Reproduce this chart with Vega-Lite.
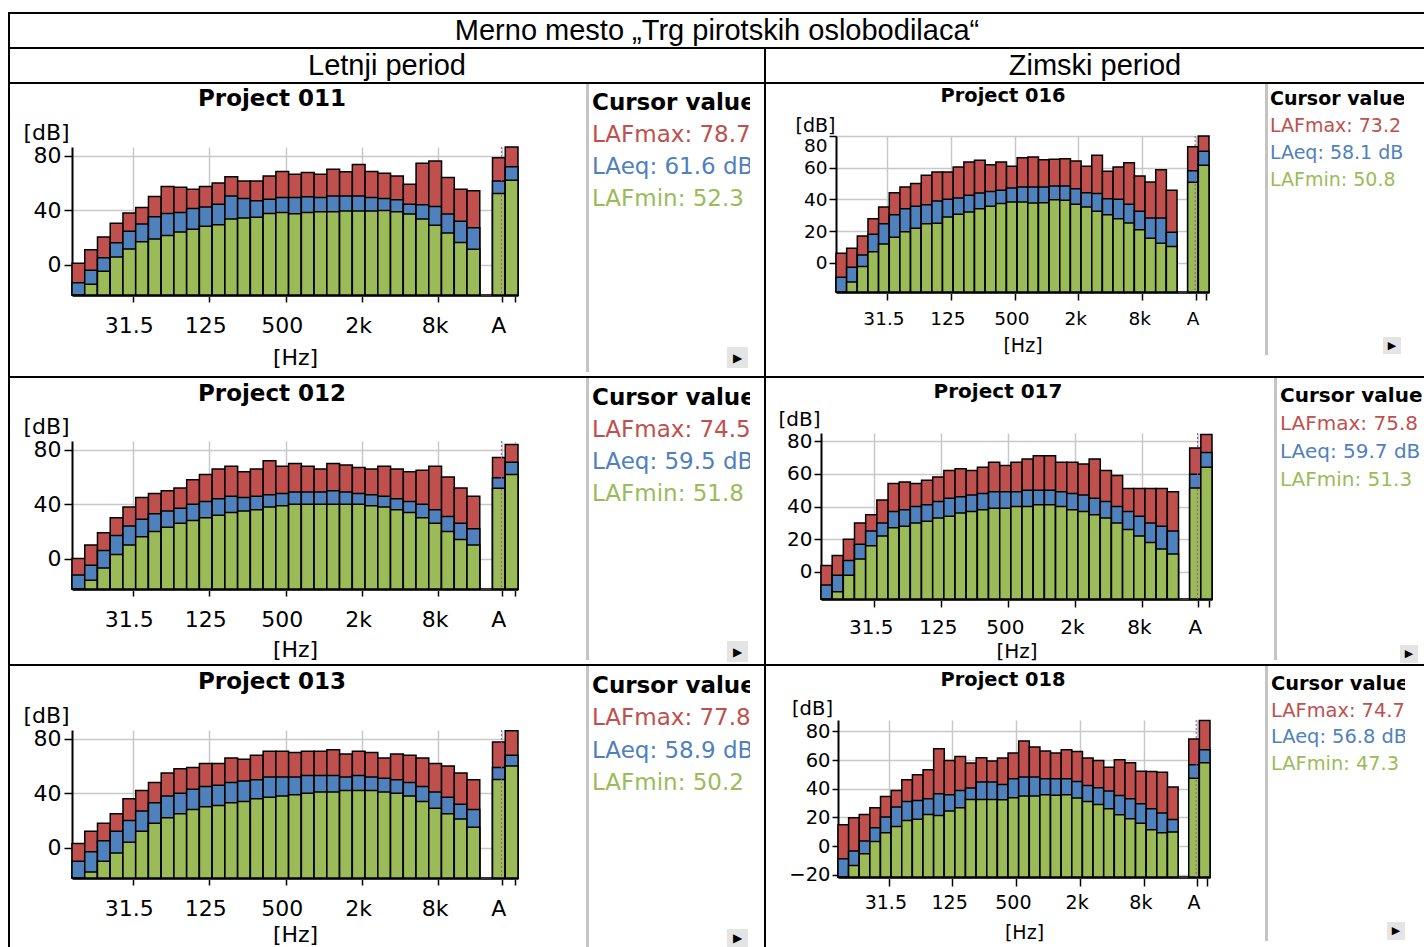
{
"$schema": "https://vega.github.io/schema/vega-lite/v6.json",
"padding": {"left": 8, "top": 12, "right": 0, "bottom": 0},
"background": "white",
"config": {
  "view": {"stroke": null},
  "font": "DejaVu Sans",
  "axis": {"labelColor": "#000", "titleColor": "#000", "labelFont": "DejaVu Sans", "titleFont": "DejaVu Sans"},
  "text": {"font": "DejaVu Sans", "color": "#000"}
},
"datasets": {
  "labels": [
    {"k": "title", "t": "Merno mesto „Trg pirotskih oslobodilaca“"},
    {"k": "L", "t": "Letnji period"},
    {"k": "Z", "t": "Zimski period"},
    {"k": "p011", "t": "Project 011"},
    {"k": "p012", "t": "Project 012"},
    {"k": "p013", "t": "Project 013"},
    {"k": "p016", "t": "Project 016"},
    {"k": "p017", "t": "Project 017"},
    {"k": "p018", "t": "Project 018"},
    {"k": "btn", "t": "▶"}
  ],
  "cursor": [
    {"p": "011", "i": 0, "t": "Cursor value", "k": "h"},
    {"p": "011", "i": 1, "t": "LAFmax: 78.7", "k": "mx"},
    {"p": "011", "i": 2, "t": "LAeq: 61.6 dB", "k": "eq"},
    {"p": "011", "i": 3, "t": "LAFmin: 52.3", "k": "mn"},
    {"p": "012", "i": 0, "t": "Cursor value", "k": "h"},
    {"p": "012", "i": 1, "t": "LAFmax: 74.5", "k": "mx"},
    {"p": "012", "i": 2, "t": "LAeq: 59.5 dB", "k": "eq"},
    {"p": "012", "i": 3, "t": "LAFmin: 51.8", "k": "mn"},
    {"p": "013", "i": 0, "t": "Cursor value", "k": "h"},
    {"p": "013", "i": 1, "t": "LAFmax: 77.8", "k": "mx"},
    {"p": "013", "i": 2, "t": "LAeq: 58.9 dB", "k": "eq"},
    {"p": "013", "i": 3, "t": "LAFmin: 50.2", "k": "mn"},
    {"p": "016", "i": 0, "t": "Cursor value", "k": "h"},
    {"p": "016", "i": 1, "t": "LAFmax: 73.2", "k": "mx"},
    {"p": "016", "i": 2, "t": "LAeq: 58.1 dB", "k": "eq"},
    {"p": "016", "i": 3, "t": "LAFmin: 50.8", "k": "mn"},
    {"p": "017", "i": 0, "t": "Cursor value", "k": "h"},
    {"p": "017", "i": 1, "t": "LAFmax: 75.8", "k": "mx"},
    {"p": "017", "i": 2, "t": "LAeq: 59.7 dB", "k": "eq"},
    {"p": "017", "i": 3, "t": "LAFmin: 51.3", "k": "mn"},
    {"p": "018", "i": 0, "t": "Cursor value", "k": "h"},
    {"p": "018", "i": 1, "t": "LAFmax: 74.7", "k": "mx"},
    {"p": "018", "i": 2, "t": "LAeq: 56.8 dB", "k": "eq"},
    {"p": "018", "i": 3, "t": "LAFmin: 47.3", "k": "mn"}
  ],
  "bars": [
    {"p":"011","f":"12.5","mx":1.0,"eq":-13.4,"mn":-22.4},
    {"p":"011","f":"16","mx":11,"eq":-4.2,"mn":-14.4},
    {"p":"011","f":"20","mx":20.3,"eq":5.1,"mn":-4.9},
    {"p":"011","f":"25","mx":30.5,"eq":16.1,"mn":5.6},
    {"p":"011","f":"31.5","mx":38,"eq":24.6,"mn":11.5},
    {"p":"011","f":"40","mx":42.1,"eq":29.8,"mn":16.8},
    {"p":"011","f":"50","mx":50.1,"eq":35.2,"mn":18.8},
    {"p":"011","f":"63","mx":57.5,"eq":37.7,"mn":21.5},
    {"p":"011","f":"80","mx":57,"eq":38.4,"mn":24},
    {"p":"011","f":"100","mx":55.5,"eq":41.3,"mn":26},
    {"p":"011","f":"125","mx":57.5,"eq":42.5,"mn":28.2},
    {"p":"011","f":"160","mx":60,"eq":44.5,"mn":29.4},
    {"p":"011","f":"200","mx":64.6,"eq":50.6,"mn":33.5},
    {"p":"011","f":"250","mx":61.6,"eq":48.6,"mn":34.3},
    {"p":"011","f":"315","mx":61.6,"eq":47,"mn":34.8},
    {"p":"011","f":"400","mx":65.3,"eq":48.2,"mn":37.7},
    {"p":"011","f":"500","mx":68.5,"eq":49.4,"mn":38.4},
    {"p":"011","f":"630","mx":66.6,"eq":49.4,"mn":37.5},
    {"p":"011","f":"800","mx":67.8,"eq":49.9,"mn":38.4},
    {"p":"011","f":"1k","mx":66.6,"eq":49.4,"mn":38.9},
    {"p":"011","f":"1.25k","mx":70.3,"eq":50.6,"mn":38.9},
    {"p":"011","f":"1.6k","mx":68.3,"eq":50.6,"mn":39.4},
    {"p":"011","f":"2k","mx":73.8,"eq":50.6,"mn":39.4},
    {"p":"011","f":"2.5k","mx":68.5,"eq":49.4,"mn":39.4},
    {"p":"011","f":"3.15k","mx":67.3,"eq":48.6,"mn":39.9},
    {"p":"011","f":"4k","mx":65.3,"eq":47.7,"mn":38.9},
    {"p":"011","f":"5k","mx":59.2,"eq":44.5,"mn":37.2},
    {"p":"011","f":"6.3k","mx":74.6,"eq":44,"mn":33.5},
    {"p":"011","f":"8k","mx":76.3,"eq":42.8,"mn":29},
    {"p":"011","f":"10k","mx":64.1,"eq":37.2,"mn":23.3},
    {"p":"011","f":"12.5k","mx":55.5,"eq":32,"mn":16.3},
    {"p":"011","f":"16k","mx":54.3,"eq":27.2,"mn":11.3},
    {"p":"011","f":"A","mx":78.7,"eq":61.6,"mn":52.3},
    {"p":"011","f":"C","mx":86.6,"eq":72.1,"mn":62.1},

    {"p":"012","f":"12.5","mx":0,"eq":-12,"mn":-22.4},
    {"p":"012","f":"16","mx":10,"eq":-5,"mn":-16},
    {"p":"012","f":"20","mx":19,"eq":6,"mn":-7},
    {"p":"012","f":"25","mx":30,"eq":17,"mn":3},
    {"p":"012","f":"31.5","mx":38,"eq":24,"mn":10},
    {"p":"012","f":"40","mx":45,"eq":29,"mn":16},
    {"p":"012","f":"50","mx":48,"eq":33,"mn":20},
    {"p":"012","f":"63","mx":50,"eq":35,"mn":23},
    {"p":"012","f":"80","mx":52,"eq":37,"mn":26},
    {"p":"012","f":"100","mx":58,"eq":40,"mn":28},
    {"p":"012","f":"125","mx":62,"eq":42,"mn":30},
    {"p":"012","f":"160","mx":66,"eq":44,"mn":32},
    {"p":"012","f":"200","mx":68,"eq":46,"mn":34},
    {"p":"012","f":"250","mx":64,"eq":45,"mn":35},
    {"p":"012","f":"315","mx":66,"eq":46,"mn":36},
    {"p":"012","f":"400","mx":72,"eq":47,"mn":38},
    {"p":"012","f":"500","mx":68,"eq":48,"mn":39},
    {"p":"012","f":"630","mx":70,"eq":49,"mn":40},
    {"p":"012","f":"800","mx":68,"eq":49,"mn":40},
    {"p":"012","f":"1k","mx":66,"eq":49,"mn":40},
    {"p":"012","f":"1.25k","mx":70,"eq":50,"mn":40},
    {"p":"012","f":"1.6k","mx":69,"eq":49,"mn":40},
    {"p":"012","f":"2k","mx":67,"eq":48,"mn":40},
    {"p":"012","f":"2.5k","mx":66,"eq":47,"mn":39},
    {"p":"012","f":"3.15k","mx":68,"eq":46,"mn":38},
    {"p":"012","f":"4k","mx":66,"eq":44,"mn":36},
    {"p":"012","f":"5k","mx":64,"eq":42,"mn":34},
    {"p":"012","f":"6.3k","mx":65,"eq":40,"mn":30},
    {"p":"012","f":"8k","mx":68,"eq":36,"mn":26},
    {"p":"012","f":"10k","mx":60,"eq":31,"mn":20},
    {"p":"012","f":"12.5k","mx":52,"eq":26,"mn":14},
    {"p":"012","f":"16k","mx":46,"eq":22,"mn":10},
    {"p":"012","f":"A","mx":74.5,"eq":59.5,"mn":51.8},
    {"p":"012","f":"C","mx":84,"eq":71,"mn":62},

    {"p":"013","f":"12.5","mx":3,"eq":-10,"mn":-22.4},
    {"p":"013","f":"16","mx":12,"eq":-3,"mn":-18},
    {"p":"013","f":"20","mx":18,"eq":5,"mn":-10},
    {"p":"013","f":"25","mx":25,"eq":12,"mn":-4},
    {"p":"013","f":"31.5","mx":36,"eq":20,"mn":4},
    {"p":"013","f":"40","mx":42,"eq":27,"mn":12},
    {"p":"013","f":"50","mx":48,"eq":33,"mn":18},
    {"p":"013","f":"63","mx":55,"eq":38,"mn":22},
    {"p":"013","f":"80","mx":58,"eq":40,"mn":25},
    {"p":"013","f":"100","mx":59,"eq":43,"mn":28},
    {"p":"013","f":"125","mx":62,"eq":45,"mn":30},
    {"p":"013","f":"160","mx":62,"eq":46,"mn":31},
    {"p":"013","f":"200","mx":66,"eq":48,"mn":33},
    {"p":"013","f":"250","mx":65,"eq":49,"mn":34},
    {"p":"013","f":"315","mx":68,"eq":50,"mn":36},
    {"p":"013","f":"400","mx":71,"eq":52,"mn":37},
    {"p":"013","f":"500","mx":71,"eq":52,"mn":38},
    {"p":"013","f":"630","mx":70,"eq":52,"mn":39},
    {"p":"013","f":"800","mx":71,"eq":53,"mn":40},
    {"p":"013","f":"1k","mx":71,"eq":53,"mn":41},
    {"p":"013","f":"1.25k","mx":72,"eq":53,"mn":41},
    {"p":"013","f":"1.6k","mx":69,"eq":52,"mn":42},
    {"p":"013","f":"2k","mx":71,"eq":53,"mn":42},
    {"p":"013","f":"2.5k","mx":70,"eq":52,"mn":42},
    {"p":"013","f":"3.15k","mx":66,"eq":51,"mn":41},
    {"p":"013","f":"4k","mx":69,"eq":50,"mn":40},
    {"p":"013","f":"5k","mx":68,"eq":48,"mn":38},
    {"p":"013","f":"6.3k","mx":66,"eq":45,"mn":34},
    {"p":"013","f":"8k","mx":62,"eq":41,"mn":29},
    {"p":"013","f":"10k","mx":60,"eq":37,"mn":25},
    {"p":"013","f":"12.5k","mx":55,"eq":32,"mn":21},
    {"p":"013","f":"16k","mx":50,"eq":28,"mn":15},
    {"p":"013","f":"A","mx":77.8,"eq":58.9,"mn":50.2},
    {"p":"013","f":"C","mx":86,"eq":68,"mn":60},

    {"p":"016","f":"12.5","mx":6.1,"eq":-9,"mn":-18.3},
    {"p":"016","f":"16","mx":9.2,"eq":-2.7,"mn":-12},
    {"p":"016","f":"20","mx":17,"eq":5,"mn":-2.3},
    {"p":"016","f":"25","mx":27.9,"eq":18.1,"mn":7.1},
    {"p":"016","f":"31.5","mx":35.3,"eq":24.7,"mn":12},
    {"p":"016","f":"40","mx":44.3,"eq":30.4,"mn":16.2},
    {"p":"016","f":"50","mx":47.9,"eq":34.2,"mn":19.6},
    {"p":"016","f":"63","mx":50,"eq":35.7,"mn":21.9},
    {"p":"016","f":"80","mx":55.2,"eq":36.7,"mn":24.7},
    {"p":"016","f":"100","mx":57.3,"eq":39,"mn":25.1},
    {"p":"016","f":"125","mx":57.3,"eq":40.1,"mn":29},
    {"p":"016","f":"160","mx":60.5,"eq":40.9,"mn":30.7},
    {"p":"016","f":"200","mx":63.6,"eq":42.6,"mn":32.1},
    {"p":"016","f":"250","mx":64.7,"eq":44.1,"mn":34.2},
    {"p":"016","f":"315","mx":61.9,"eq":45,"mn":35.8},
    {"p":"016","f":"400","mx":63.6,"eq":45.8,"mn":37.4},
    {"p":"016","f":"500","mx":60.9,"eq":47.2,"mn":38.4},
    {"p":"016","f":"630","mx":66.3,"eq":47.9,"mn":38.4},
    {"p":"016","f":"800","mx":66.8,"eq":47.9,"mn":37.8},
    {"p":"016","f":"1k","mx":65.1,"eq":47.9,"mn":38},
    {"p":"016","f":"1.25k","mx":65.3,"eq":48.5,"mn":39.9},
    {"p":"016","f":"1.6k","mx":65.7,"eq":48.5,"mn":39.5},
    {"p":"016","f":"2k","mx":64.3,"eq":46.8,"mn":37},
    {"p":"016","f":"2.5k","mx":60.9,"eq":44.3,"mn":35.3},
    {"p":"016","f":"3.15k","mx":67.8,"eq":43.7,"mn":32.6},
    {"p":"016","f":"4k","mx":57.8,"eq":40.5,"mn":30.4},
    {"p":"016","f":"5k","mx":60.5,"eq":40.1,"mn":27.9},
    {"p":"016","f":"6.3k","mx":63.2,"eq":37,"mn":25.2},
    {"p":"016","f":"8k","mx":54.8,"eq":32.6,"mn":20.9},
    {"p":"016","f":"10k","mx":51,"eq":28.3,"mn":15.5},
    {"p":"016","f":"12.5k","mx":58.8,"eq":28.3,"mn":12.4},
    {"p":"016","f":"16k","mx":45.8,"eq":19.3,"mn":10.3},
    {"p":"016","f":"A","mx":73.2,"eq":58.1,"mn":50.8},
    {"p":"016","f":"C","mx":80,"eq":70.4,"mn":61.5},

    {"p":"017","f":"12.5","mx":4,"eq":-8,"mn":-16.5},
    {"p":"017","f":"16","mx":10,"eq":-2,"mn":-12},
    {"p":"017","f":"20","mx":20,"eq":7,"mn":-2},
    {"p":"017","f":"25","mx":30,"eq":17,"mn":8},
    {"p":"017","f":"31.5","mx":35,"eq":25,"mn":16},
    {"p":"017","f":"40","mx":44,"eq":30,"mn":22},
    {"p":"017","f":"50","mx":54,"eq":37,"mn":27},
    {"p":"017","f":"63","mx":55,"eq":38,"mn":28},
    {"p":"017","f":"80","mx":54,"eq":40,"mn":30},
    {"p":"017","f":"100","mx":56,"eq":41,"mn":31},
    {"p":"017","f":"125","mx":58,"eq":43,"mn":33},
    {"p":"017","f":"160","mx":62,"eq":45,"mn":34},
    {"p":"017","f":"200","mx":63,"eq":46,"mn":36},
    {"p":"017","f":"250","mx":62,"eq":47,"mn":37},
    {"p":"017","f":"315","mx":64,"eq":48,"mn":38},
    {"p":"017","f":"400","mx":67,"eq":49,"mn":39},
    {"p":"017","f":"500","mx":65,"eq":49,"mn":39},
    {"p":"017","f":"630","mx":67,"eq":49,"mn":40},
    {"p":"017","f":"800","mx":69,"eq":50,"mn":40},
    {"p":"017","f":"1k","mx":71,"eq":50,"mn":41},
    {"p":"017","f":"1.25k","mx":71,"eq":50,"mn":41},
    {"p":"017","f":"1.6k","mx":67,"eq":49,"mn":40},
    {"p":"017","f":"2k","mx":67,"eq":48,"mn":38},
    {"p":"017","f":"2.5k","mx":66,"eq":47,"mn":37},
    {"p":"017","f":"3.15k","mx":69,"eq":45,"mn":35},
    {"p":"017","f":"4k","mx":62,"eq":43,"mn":33},
    {"p":"017","f":"5k","mx":59,"eq":40,"mn":30},
    {"p":"017","f":"6.3k","mx":51,"eq":37,"mn":26},
    {"p":"017","f":"8k","mx":51,"eq":34,"mn":22},
    {"p":"017","f":"10k","mx":51,"eq":30,"mn":18},
    {"p":"017","f":"12.5k","mx":51,"eq":28,"mn":14},
    {"p":"017","f":"16k","mx":49,"eq":25,"mn":11},
    {"p":"017","f":"A","mx":75.8,"eq":59.7,"mn":51.3},
    {"p":"017","f":"C","mx":84,"eq":73,"mn":64},

    {"p":"018","f":"12.5","mx":14.9,"eq":-8.9,"mn":-21.6},
    {"p":"018","f":"16","mx":19.7,"eq":-3.5,"mn":-13.5},
    {"p":"018","f":"20","mx":22,"eq":3.5,"mn":-5.4},
    {"p":"018","f":"25","mx":26.7,"eq":12.8,"mn":3.2},
    {"p":"018","f":"31.5","mx":34.6,"eq":20.2,"mn":9.3},
    {"p":"018","f":"40","mx":38.8,"eq":27.2,"mn":13.7},
    {"p":"018","f":"50","mx":46.3,"eq":31.1,"mn":17.9},
    {"p":"018","f":"63","mx":49.8,"eq":31.8,"mn":18.8},
    {"p":"018","f":"80","mx":53.2,"eq":33,"mn":22},
    {"p":"018","f":"100","mx":67.9,"eq":36.5,"mn":21.4},
    {"p":"018","f":"125","mx":59.7,"eq":35.8,"mn":24.4},
    {"p":"018","f":"160","mx":62.5,"eq":38.8,"mn":26.7},
    {"p":"018","f":"200","mx":57.9,"eq":40.5,"mn":32.5},
    {"p":"018","f":"250","mx":61.6,"eq":44.7,"mn":32.5},
    {"p":"018","f":"315","mx":59.3,"eq":44.7,"mn":32.5},
    {"p":"018","f":"400","mx":61.4,"eq":43,"mn":32.3},
    {"p":"018","f":"500","mx":64.9,"eq":47,"mn":33.7},
    {"p":"018","f":"630","mx":73.3,"eq":48.2,"mn":34.9},
    {"p":"018","f":"800","mx":69.1,"eq":48.2,"mn":34.9},
    {"p":"018","f":"1k","mx":66.3,"eq":47,"mn":35.8},
    {"p":"018","f":"1.25k","mx":64.9,"eq":47,"mn":35.4},
    {"p":"018","f":"1.6k","mx":67.2,"eq":47,"mn":35.8},
    {"p":"018","f":"2k","mx":66,"eq":45.1,"mn":33.5},
    {"p":"018","f":"2.5k","mx":61.4,"eq":42.3,"mn":31.1},
    {"p":"018","f":"3.15k","mx":59.7,"eq":40.7,"mn":29},
    {"p":"018","f":"4k","mx":55.1,"eq":38.4,"mn":26},
    {"p":"018","f":"5k","mx":60.2,"eq":35.3,"mn":21.8},
    {"p":"018","f":"6.3k","mx":58.1,"eq":33,"mn":19},
    {"p":"018","f":"8k","mx":52.3,"eq":29.5,"mn":16},
    {"p":"018","f":"10k","mx":52,"eq":26,"mn":11.4},
    {"p":"018","f":"12.5k","mx":51.6,"eq":23,"mn":9.3},
    {"p":"018","f":"16k","mx":41.2,"eq":18.6,"mn":9.8},
    {"p":"018","f":"A","mx":74.7,"eq":56.8,"mn":47.3},
    {"p":"018","f":"C","mx":87.7,"eq":67.2,"mn":58.1}
  ]
},
"spacing": 0,
"vconcat": [
  {"data": {"values": []}, "mark": "point", "width": 1416, "height": 2, "view": {"fill": "#000", "stroke": null}},
  {"hconcat": [
    {"data": {"values": []}, "mark": "point", "width": 2, "height": 33, "view": {"fill": "#000", "stroke": null}},
    {"width": 1414, "height": 33, "data": {"name": "labels"}, "transform": [{"filter": "datum.k == 'title'"}], "mark": {"type": "text", "font": "Liberation Sans", "fontSize": 29, "baseline": "middle"}, "encoding": {"text": {"field": "t"}}}
  ], "spacing": 0},
  {"data": {"values": []}, "mark": "point", "width": 1416, "height": 2, "view": {"fill": "#000", "stroke": null}},
  {"hconcat": [
    {"data": {"values": []}, "mark": "point", "width": 2, "height": 33, "view": {"fill": "#000", "stroke": null}},
    {"width": 754, "height": 33, "data": {"name": "labels"}, "transform": [{"filter": "datum.k == 'L'"}], "mark": {"type": "text", "font": "Liberation Sans", "fontSize": 29, "baseline": "middle"}, "encoding": {"text": {"field": "t"}}},
    {"data": {"values": []}, "mark": "point", "width": 2, "height": 33, "view": {"fill": "#000", "stroke": null}},
    {"width": 658, "height": 33, "data": {"name": "labels"}, "transform": [{"filter": "datum.k == 'Z'"}], "mark": {"type": "text", "font": "Liberation Sans", "fontSize": 29, "baseline": "middle"}, "encoding": {"text": {"field": "t"}}}
  ], "spacing": 0},
  {"data": {"values": []}, "mark": "point", "width": 1416, "height": 2, "view": {"fill": "#000", "stroke": null}},

  {"hconcat": [
    {"data": {"values": []}, "mark": "point", "width": 2, "height": 292, "view": {"fill": "#000", "stroke": null}},
    {"hconcat": [
      {"vconcat": [
        {"width": 524, "height": 30, "data": {"name": "labels"}, "transform": [{"filter": "datum.k == 'p011'"}], "mark": {"type": "text", "fontWeight": "bold", "fontSize": 23, "baseline": "middle"}, "encoding": {"text": {"field": "t"}}},
        {"concat": [
          {"data": {"values": []}, "mark": "point", "width": 62, "height": 33},
          {"data": {"values": []}, "mark": "point", "width": 446, "height": 33},
          {"data": {"values": []}, "mark": "point", "width": 68, "height": 33},
          {"data": {"values": []}, "mark": "point", "width": 62, "height": 148},
          {"width": 446, "height": 148, "data": {"name": "bars"}, "transform": [{"filter": "datum.p == '011'"}],
           "layer": [
             {"transform": [{"fold": ["mx", "eq", "mn"], "as": ["s", "v"]}],
              "mark": {"type": "bar", "stroke": "#000", "strokeWidth": 1.5},
              "encoding": {
                "x": {"field": "f", "type": "ordinal", "scale": {"domain": ["12.5","16","20","25","31.5","40","50","63","80","100","125","160","200","250","315","400","500","630","800","1k","1.25k","1.6k","2k","2.5k","3.15k","4k","5k","6.3k","8k","10k","12.5k","16k"," ","A","C"], "paddingInner": 0, "paddingOuter": 0},
                      "axis": {"values": ["31.5","125","500","2k","8k","A","C"], "labelExpr": "datum.label == 'C' ? '' : datum.label", "bandPosition": 0.8, "labelAngle": 0, "labelOverlap": false, "grid": true, "gridColor": "#c8c8c8", "gridWidth": 1.5, "domainColor": "#333", "domainWidth": 3, "tickColor": "#000", "tickWidth": 1.5, "tickSize": 7, "labelFontSize": 22, "labelPadding": 13, "title": "[Hz]", "titleFontSize": 22, "titleFontWeight": "normal", "titleBaseline": "alphabetic", "titleY": 69}},
                "y": {"field": "v", "type": "quantitative", "stack": null, "scale": {"domain": [-22.4, 86.6], "nice": false, "zero": false},
                      "axis": {"values": [0, 40, 80], "grid": true, "gridColor": "#c8c8c8", "gridWidth": 1.5, "domainColor": "#000", "domainWidth": 2, "tickColor": "#000", "tickWidth": 1.5, "tickSize": 8, "labelPadding": 3, "labelFontSize": 22, "title": "[dB]", "titleAngle": 0, "titleAlign": "center", "titleBaseline": "alphabetic", "titleX": -26, "titleY": -8, "titleFontSize": 22, "titleFontWeight": "normal"}},
                "y2": {"datum": -22.4},
                "color": {"field": "s", "type": "nominal", "scale": {"domain": ["mx", "eq", "mn"], "range": ["#c0504d", "#4f81bd", "#9bbb59"]}, "legend": null}
              }},
             {"transform": [{"filter": "datum.f == 'A'"}], "mark": {"type": "rule", "color": "#a64ca6", "strokeDash": [2, 2], "strokeWidth": 1}, "encoding": {"x": {"field": "f", "type": "ordinal", "bandPosition": 0.7}}}
           ]},
          {"data": {"values": []}, "mark": "point", "width": 68, "height": 148},
          {"data": {"values": []}, "mark": "point", "width": 62, "height": 81},
          {"data": {"values": []}, "mark": "point", "width": 446, "height": 81},
          {"data": {"values": []}, "mark": "point", "width": 68, "height": 81}
        ], "columns": 3, "spacing": 0, "bounds": "flush", "align": "each"}
      ], "spacing": 0},
      {"data": {"values": []}, "mark": "point", "width": 3, "height": 288, "view": {"fill": "#c4c4c4", "stroke": null}},
      {"data": {"values": []}, "mark": "point", "width": 3, "height": 10},
      {"vconcat": [
        {"width": 158, "height": 134, "data": {"name": "cursor"}, "transform": [{"filter": "datum.p == '011'"}],
         "encoding": {"y": {"field": "i", "type": "ordinal", "scale": {"type": "point", "padding": 0.594}, "axis": null},
                      "x": {"datum": 0, "type": "quantitative", "scale": {"domain": [0, 1]}, "axis": null},
                      "text": {"field": "t"}},
         "layer": [
           {"transform": [{"filter": "datum.k == 'h'"}], "mark": {"type": "text", "align": "left", "baseline": "middle", "fontSize": 23, "fontWeight": "bold", "color": "#000", "clip": true}},
           {"transform": [{"filter": "datum.k != 'h'"}], "mark": {"type": "text", "align": "left", "baseline": "middle", "fontSize": 23, "clip": true},
            "encoding": {"color": {"field": "k", "type": "nominal", "scale": {"domain": ["mx", "eq", "mn"], "range": ["#c0504d", "#4f81bd", "#9bbb59"]}, "legend": null}}}
         ]},
        {"data": {"values": []}, "mark": "point", "width": 158, "height": 129},
        {"hconcat": [
          {"data": {"values": []}, "mark": "point", "width": 135, "height": 21},
          {"width": 21, "height": 21, "data": {"name": "labels"}, "transform": [{"filter": "datum.k == 'btn'"}], "mark": {"type": "text", "fontSize": 12, "baseline": "middle", "color": "#000"}, "encoding": {"text": {"field": "t"}}, "view": {"fill": "#e4e4e4", "stroke": null}},
          {"data": {"values": []}, "mark": "point", "width": 2, "height": 21}
        ], "spacing": 0},
        {"data": {"values": []}, "mark": "point", "width": 158, "height": 8}
      ], "spacing": 0},
      {"data": {"values": []}, "mark": "point", "width": 14, "height": 10}
    ], "spacing": 0},
    {"data": {"values": []}, "mark": "point", "width": 2, "height": 292, "view": {"fill": "#000", "stroke": null}},
    {"hconcat": [
      {"vconcat": [
        {"width": 474, "height": 24, "data": {"name": "labels"}, "transform": [{"filter": "datum.k == 'p016'"}], "mark": {"type": "text", "fontWeight": "bold", "fontSize": 19.4, "baseline": "middle"}, "encoding": {"text": {"field": "t"}}},
        {"concat": [
          {"data": {"values": []}, "mark": "point", "width": 70, "height": 28},
          {"data": {"values": []}, "mark": "point", "width": 373, "height": 28},
          {"data": {"values": []}, "mark": "point", "width": 56, "height": 28},
          {"data": {"values": []}, "mark": "point", "width": 70, "height": 156},
          {"width": 373, "height": 156, "data": {"name": "bars"}, "transform": [{"filter": "datum.p == '016'"}],
           "layer": [
             {"transform": [{"fold": ["mx", "eq", "mn"], "as": ["s", "v"]}],
              "mark": {"type": "bar", "stroke": "#000", "strokeWidth": 1.5},
              "encoding": {
                "x": {"field": "f", "type": "ordinal", "scale": {"domain": ["12.5","16","20","25","31.5","40","50","63","80","100","125","160","200","250","315","400","500","630","800","1k","1.25k","1.6k","2k","2.5k","3.15k","4k","5k","6.3k","8k","10k","12.5k","16k"," ","A","C"], "paddingInner": 0, "paddingOuter": 0},
                      "axis": {"values": ["31.5","125","500","2k","8k","A","C"], "labelExpr": "datum.label == 'C' ? '' : datum.label", "bandPosition": 0.8, "labelAngle": 0, "labelOverlap": false, "grid": true, "gridColor": "#c8c8c8", "gridWidth": 1.5, "domainColor": "#333", "domainWidth": 3, "tickColor": "#000", "tickWidth": 1.5, "tickSize": 8, "labelFontSize": 18.5, "labelPadding": 9, "title": "[Hz]", "titleFontSize": 19, "titleFontWeight": "normal", "titleBaseline": "alphabetic", "titleY": 59.5}},
                "y": {"field": "v", "type": "quantitative", "stack": null, "scale": {"domain": [-18.3, 80], "nice": false, "zero": false},
                      "axis": {"values": [0, 20, 40, 60, 80], "labelFlush": true, "grid": true, "gridColor": "#c8c8c8", "gridWidth": 1.5, "domainColor": "#000", "domainWidth": 2, "tickColor": "#000", "tickWidth": 1.5, "tickSize": 7, "labelPadding": 2, "labelFontSize": 18.5, "title": "[dB]", "titleAngle": 0, "titleAlign": "center", "titleBaseline": "alphabetic", "titleX": -21, "titleY": -5, "titleFontSize": 19, "titleFontWeight": "normal"}},
                "y2": {"datum": -18.3},
                "color": {"field": "s", "type": "nominal", "scale": {"domain": ["mx", "eq", "mn"], "range": ["#c0504d", "#4f81bd", "#9bbb59"]}, "legend": null}
              }},
             {"transform": [{"filter": "datum.f == 'A'"}], "mark": {"type": "rule", "color": "#a64ca6", "strokeDash": [2, 2], "strokeWidth": 1}, "encoding": {"x": {"field": "f", "type": "ordinal", "bandPosition": 0.7}}}
           ]},
          {"data": {"values": []}, "mark": "point", "width": 56, "height": 156},
          {"data": {"values": []}, "mark": "point", "width": 70, "height": 84},
          {"data": {"values": []}, "mark": "point", "width": 373, "height": 84},
          {"data": {"values": []}, "mark": "point", "width": 56, "height": 84}
        ], "columns": 3, "spacing": 0, "bounds": "flush", "align": "each"}
      ], "spacing": 0},
      {"data": {"values": []}, "mark": "point", "width": 3, "height": 271, "view": {"fill": "#c4c4c4", "stroke": null}},
      {"data": {"values": []}, "mark": "point", "width": 2, "height": 10},
      {"vconcat": [
        {"width": 134, "height": 111, "data": {"name": "cursor"}, "transform": [{"filter": "datum.p == '016'"}],
         "encoding": {"y": {"field": "i", "type": "ordinal", "scale": {"type": "point", "padding": 0.556}, "axis": null},
                      "x": {"datum": 0, "type": "quantitative", "scale": {"domain": [0, 1]}, "axis": null},
                      "text": {"field": "t"}},
         "layer": [
           {"transform": [{"filter": "datum.k == 'h'"}], "mark": {"type": "text", "align": "left", "baseline": "middle", "fontSize": 19, "fontWeight": "bold", "color": "#000", "clip": true}},
           {"transform": [{"filter": "datum.k != 'h'"}], "mark": {"type": "text", "align": "left", "baseline": "middle", "fontSize": 19, "clip": true},
            "encoding": {"color": {"field": "k", "type": "nominal", "scale": {"domain": ["mx", "eq", "mn"], "range": ["#c0504d", "#4f81bd", "#9bbb59"]}, "legend": null}}}
         ]},
        {"data": {"values": []}, "mark": "point", "width": 134, "height": 142},
        {"hconcat": [
          {"data": {"values": []}, "mark": "point", "width": 113, "height": 17},
          {"width": 18, "height": 17, "data": {"name": "labels"}, "transform": [{"filter": "datum.k == 'btn'"}], "mark": {"type": "text", "fontSize": 11, "baseline": "middle", "color": "#000"}, "encoding": {"text": {"field": "t"}}, "view": {"fill": "#e4e4e4", "stroke": null}},
          {"data": {"values": []}, "mark": "point", "width": 3, "height": 17}
        ], "spacing": 0},
        {"data": {"values": []}, "mark": "point", "width": 134, "height": 22}
      ], "spacing": 0},
      {"data": {"values": []}, "mark": "point", "width": 20, "height": 10}
    ], "spacing": 0}
  ], "spacing": 0},

  {"data": {"values": []}, "mark": "point", "width": 1416, "height": 2, "view": {"fill": "#000", "stroke": null}},

  {"hconcat": [
    {"data": {"values": []}, "mark": "point", "width": 2, "height": 286, "view": {"fill": "#000", "stroke": null}},
    {"hconcat": [
      {"vconcat": [
        {"width": 524, "height": 32, "data": {"name": "labels"}, "transform": [{"filter": "datum.k == 'p012'"}], "mark": {"type": "text", "fontWeight": "bold", "fontSize": 23, "baseline": "middle"}, "encoding": {"text": {"field": "t"}}},
        {"concat": [
          {"data": {"values": []}, "mark": "point", "width": 62, "height": 31},
          {"data": {"values": []}, "mark": "point", "width": 446, "height": 31},
          {"data": {"values": []}, "mark": "point", "width": 68, "height": 31},
          {"data": {"values": []}, "mark": "point", "width": 62, "height": 148},
          {"width": 446, "height": 148, "data": {"name": "bars"}, "transform": [{"filter": "datum.p == '012'"}],
           "layer": [
             {"transform": [{"fold": ["mx", "eq", "mn"], "as": ["s", "v"]}],
              "mark": {"type": "bar", "stroke": "#000", "strokeWidth": 1.5},
              "encoding": {
                "x": {"field": "f", "type": "ordinal", "scale": {"domain": ["12.5","16","20","25","31.5","40","50","63","80","100","125","160","200","250","315","400","500","630","800","1k","1.25k","1.6k","2k","2.5k","3.15k","4k","5k","6.3k","8k","10k","12.5k","16k"," ","A","C"], "paddingInner": 0, "paddingOuter": 0},
                      "axis": {"values": ["31.5","125","500","2k","8k","A","C"], "labelExpr": "datum.label == 'C' ? '' : datum.label", "bandPosition": 0.8, "labelAngle": 0, "labelOverlap": false, "grid": true, "gridColor": "#c8c8c8", "gridWidth": 1.5, "domainColor": "#333", "domainWidth": 3, "tickColor": "#000", "tickWidth": 1.5, "tickSize": 7, "labelFontSize": 22, "labelPadding": 13, "title": "[Hz]", "titleFontSize": 22, "titleFontWeight": "normal", "titleBaseline": "alphabetic", "titleY": 67}},
                "y": {"field": "v", "type": "quantitative", "stack": null, "scale": {"domain": [-22.4, 86.6], "nice": false, "zero": false},
                      "axis": {"values": [0, 40, 80], "grid": true, "gridColor": "#c8c8c8", "gridWidth": 1.5, "domainColor": "#000", "domainWidth": 2, "tickColor": "#000", "tickWidth": 1.5, "tickSize": 8, "labelPadding": 3, "labelFontSize": 22, "title": "[dB]", "titleAngle": 0, "titleAlign": "center", "titleBaseline": "alphabetic", "titleX": -26, "titleY": -8, "titleFontSize": 22, "titleFontWeight": "normal"}},
                "y2": {"datum": -22.4},
                "color": {"field": "s", "type": "nominal", "scale": {"domain": ["mx", "eq", "mn"], "range": ["#c0504d", "#4f81bd", "#9bbb59"]}, "legend": null}
              }},
             {"transform": [{"filter": "datum.f == 'A'"}], "mark": {"type": "rule", "color": "#a64ca6", "strokeDash": [2, 2], "strokeWidth": 1}, "encoding": {"x": {"field": "f", "type": "ordinal", "bandPosition": 0.7}}}
           ]},
          {"data": {"values": []}, "mark": "point", "width": 68, "height": 148},
          {"data": {"values": []}, "mark": "point", "width": 62, "height": 75},
          {"data": {"values": []}, "mark": "point", "width": 446, "height": 75},
          {"data": {"values": []}, "mark": "point", "width": 68, "height": 75}
        ], "columns": 3, "spacing": 0, "bounds": "flush", "align": "each"}
      ], "spacing": 0},
      {"data": {"values": []}, "mark": "point", "width": 3, "height": 282, "view": {"fill": "#c4c4c4", "stroke": null}},
      {"data": {"values": []}, "mark": "point", "width": 3, "height": 10},
      {"vconcat": [
        {"width": 158, "height": 136, "data": {"name": "cursor"}, "transform": [{"filter": "datum.p == '012'"}],
         "encoding": {"y": {"field": "i", "type": "ordinal", "scale": {"type": "point", "padding": 0.625}, "axis": null},
                      "x": {"datum": 0, "type": "quantitative", "scale": {"domain": [0, 1]}, "axis": null},
                      "text": {"field": "t"}},
         "layer": [
           {"transform": [{"filter": "datum.k == 'h'"}], "mark": {"type": "text", "align": "left", "baseline": "middle", "fontSize": 23, "fontWeight": "bold", "color": "#000", "clip": true}},
           {"transform": [{"filter": "datum.k != 'h'"}], "mark": {"type": "text", "align": "left", "baseline": "middle", "fontSize": 23, "clip": true},
            "encoding": {"color": {"field": "k", "type": "nominal", "scale": {"domain": ["mx", "eq", "mn"], "range": ["#c0504d", "#4f81bd", "#9bbb59"]}, "legend": null}}}
         ]},
        {"data": {"values": []}, "mark": "point", "width": 158, "height": 127},
        {"hconcat": [
          {"data": {"values": []}, "mark": "point", "width": 135, "height": 21},
          {"width": 21, "height": 21, "data": {"name": "labels"}, "transform": [{"filter": "datum.k == 'btn'"}], "mark": {"type": "text", "fontSize": 12, "baseline": "middle", "color": "#000"}, "encoding": {"text": {"field": "t"}}, "view": {"fill": "#e4e4e4", "stroke": null}},
          {"data": {"values": []}, "mark": "point", "width": 2, "height": 21}
        ], "spacing": 0},
        {"data": {"values": []}, "mark": "point", "width": 158, "height": 2}
      ], "spacing": 0},
      {"data": {"values": []}, "mark": "point", "width": 14, "height": 10}
    ], "spacing": 0},
    {"data": {"values": []}, "mark": "point", "width": 2, "height": 286, "view": {"fill": "#000", "stroke": null}},
    {"hconcat": [
      {"vconcat": [
        {"width": 464, "height": 28, "data": {"name": "labels"}, "transform": [{"filter": "datum.k == 'p017'"}], "mark": {"type": "text", "fontWeight": "bold", "fontSize": 20, "baseline": "middle"}, "encoding": {"text": {"field": "t"}}},
        {"concat": [
          {"data": {"values": []}, "mark": "point", "width": 55, "height": 27},
          {"data": {"values": []}, "mark": "point", "width": 391, "height": 27},
          {"data": {"values": []}, "mark": "point", "width": 62, "height": 27},
          {"data": {"values": []}, "mark": "point", "width": 55, "height": 166},
          {"width": 391, "height": 166, "data": {"name": "bars"}, "transform": [{"filter": "datum.p == '017'"}],
           "layer": [
             {"transform": [{"fold": ["mx", "eq", "mn"], "as": ["s", "v"]}],
              "mark": {"type": "bar", "stroke": "#000", "strokeWidth": 1.5},
              "encoding": {
                "x": {"field": "f", "type": "ordinal", "scale": {"domain": ["12.5","16","20","25","31.5","40","50","63","80","100","125","160","200","250","315","400","500","630","800","1k","1.25k","1.6k","2k","2.5k","3.15k","4k","5k","6.3k","8k","10k","12.5k","16k"," ","A","C"], "paddingInner": 0, "paddingOuter": 0},
                      "axis": {"values": ["31.5","125","500","2k","8k","A","C"], "labelExpr": "datum.label == 'C' ? '' : datum.label", "bandPosition": 0.8, "labelAngle": 0, "labelOverlap": false, "grid": true, "gridColor": "#c8c8c8", "gridWidth": 1.5, "domainColor": "#333", "domainWidth": 3, "tickColor": "#000", "tickWidth": 1.5, "tickSize": 8, "labelFontSize": 20, "labelPadding": 10, "title": "[Hz]", "titleFontSize": 20, "titleFontWeight": "normal", "titleBaseline": "alphabetic", "titleY": 58}},
                "y": {"field": "v", "type": "quantitative", "stack": null, "scale": {"domain": [-16.5, 84.9], "nice": false, "zero": false},
                      "axis": {"values": [0, 20, 40, 60, 80], "grid": true, "gridColor": "#c8c8c8", "gridWidth": 1.5, "domainColor": "#000", "domainWidth": 2, "tickColor": "#000", "tickWidth": 1.5, "tickSize": 7, "labelPadding": 2, "labelFontSize": 20, "title": "[dB]", "titleAngle": 0, "titleAlign": "center", "titleBaseline": "alphabetic", "titleX": -22, "titleY": -8, "titleFontSize": 20, "titleFontWeight": "normal"}},
                "y2": {"datum": -16.5},
                "color": {"field": "s", "type": "nominal", "scale": {"domain": ["mx", "eq", "mn"], "range": ["#c0504d", "#4f81bd", "#9bbb59"]}, "legend": null}
              }},
             {"transform": [{"filter": "datum.f == 'A'"}], "mark": {"type": "rule", "color": "#a64ca6", "strokeDash": [2, 2], "strokeWidth": 1}, "encoding": {"x": {"field": "f", "type": "ordinal", "bandPosition": 0.7}}}
           ]},
          {"data": {"values": []}, "mark": "point", "width": 62, "height": 166},
          {"data": {"values": []}, "mark": "point", "width": 55, "height": 65},
          {"data": {"values": []}, "mark": "point", "width": 391, "height": 65},
          {"data": {"values": []}, "mark": "point", "width": 62, "height": 65}
        ], "columns": 3, "spacing": 0, "bounds": "flush", "align": "each"}
      ], "spacing": 0},
      {"data": {"values": []}, "mark": "point", "width": 3, "height": 282, "view": {"fill": "#c4c4c4", "stroke": null}},
      {"data": {"values": []}, "mark": "point", "width": 3, "height": 10},
      {"vconcat": [
        {"width": 144, "height": 120, "data": {"name": "cursor"}, "transform": [{"filter": "datum.p == '017'"}],
         "encoding": {"y": {"field": "i", "type": "ordinal", "scale": {"type": "point", "padding": 0.643}, "axis": null},
                      "x": {"datum": 0, "type": "quantitative", "scale": {"domain": [0, 1]}, "axis": null},
                      "text": {"field": "t"}},
         "layer": [
           {"transform": [{"filter": "datum.k == 'h'"}], "mark": {"type": "text", "align": "left", "baseline": "middle", "fontSize": 20, "fontWeight": "bold", "color": "#000", "clip": true}},
           {"transform": [{"filter": "datum.k != 'h'"}], "mark": {"type": "text", "align": "left", "baseline": "middle", "fontSize": 20, "clip": true},
            "encoding": {"color": {"field": "k", "type": "nominal", "scale": {"domain": ["mx", "eq", "mn"], "range": ["#c0504d", "#4f81bd", "#9bbb59"]}, "legend": null}}}
         ]},
        {"data": {"values": []}, "mark": "point", "width": 144, "height": 147},
        {"hconcat": [
          {"data": {"values": []}, "mark": "point", "width": 120, "height": 18},
          {"width": 18, "height": 18, "data": {"name": "labels"}, "transform": [{"filter": "datum.k == 'btn'"}], "mark": {"type": "text", "fontSize": 11, "baseline": "middle", "color": "#000"}, "encoding": {"text": {"field": "t"}}, "view": {"fill": "#e4e4e4", "stroke": null}},
          {"data": {"values": []}, "mark": "point", "width": 6, "height": 18}
        ], "spacing": 0},
        {"data": {"values": []}, "mark": "point", "width": 144, "height": 1}
      ], "spacing": 0}
    ], "spacing": 0}
  ], "spacing": 0},

  {"data": {"values": []}, "mark": "point", "width": 1416, "height": 2, "view": {"fill": "#000", "stroke": null}},

  {"hconcat": [
    {"data": {"values": []}, "mark": "point", "width": 2, "height": 281, "view": {"fill": "#000", "stroke": null}},
    {"hconcat": [
      {"vconcat": [
        {"width": 524, "height": 32, "data": {"name": "labels"}, "transform": [{"filter": "datum.k == 'p013'"}], "mark": {"type": "text", "fontWeight": "bold", "fontSize": 23, "baseline": "middle"}, "encoding": {"text": {"field": "t"}}},
        {"concat": [
          {"data": {"values": []}, "mark": "point", "width": 62, "height": 32},
          {"data": {"values": []}, "mark": "point", "width": 446, "height": 32},
          {"data": {"values": []}, "mark": "point", "width": 68, "height": 32},
          {"data": {"values": []}, "mark": "point", "width": 62, "height": 148},
          {"width": 446, "height": 148, "data": {"name": "bars"}, "transform": [{"filter": "datum.p == '013'"}],
           "layer": [
             {"transform": [{"fold": ["mx", "eq", "mn"], "as": ["s", "v"]}],
              "mark": {"type": "bar", "stroke": "#000", "strokeWidth": 1.5},
              "encoding": {
                "x": {"field": "f", "type": "ordinal", "scale": {"domain": ["12.5","16","20","25","31.5","40","50","63","80","100","125","160","200","250","315","400","500","630","800","1k","1.25k","1.6k","2k","2.5k","3.15k","4k","5k","6.3k","8k","10k","12.5k","16k"," ","A","C"], "paddingInner": 0, "paddingOuter": 0},
                      "axis": {"values": ["31.5","125","500","2k","8k","A","C"], "labelExpr": "datum.label == 'C' ? '' : datum.label", "bandPosition": 0.8, "labelAngle": 0, "labelOverlap": false, "grid": true, "gridColor": "#c8c8c8", "gridWidth": 1.5, "domainColor": "#333", "domainWidth": 3, "tickColor": "#000", "tickWidth": 1.5, "tickSize": 7, "labelFontSize": 22, "labelPadding": 13, "title": "[Hz]", "titleFontSize": 22, "titleFontWeight": "normal", "titleBaseline": "alphabetic", "titleY": 63}},
                "y": {"field": "v", "type": "quantitative", "stack": null, "scale": {"domain": [-22.4, 86.6], "nice": false, "zero": false},
                      "axis": {"values": [0, 40, 80], "grid": true, "gridColor": "#c8c8c8", "gridWidth": 1.5, "domainColor": "#000", "domainWidth": 2, "tickColor": "#000", "tickWidth": 1.5, "tickSize": 8, "labelPadding": 3, "labelFontSize": 22, "title": "[dB]", "titleAngle": 0, "titleAlign": "center", "titleBaseline": "alphabetic", "titleX": -26, "titleY": -8, "titleFontSize": 22, "titleFontWeight": "normal"}},
                "y2": {"datum": -22.4},
                "color": {"field": "s", "type": "nominal", "scale": {"domain": ["mx", "eq", "mn"], "range": ["#c0504d", "#4f81bd", "#9bbb59"]}, "legend": null}
              }},
             {"transform": [{"filter": "datum.f == 'A'"}], "mark": {"type": "rule", "color": "#a64ca6", "strokeDash": [2, 2], "strokeWidth": 1}, "encoding": {"x": {"field": "f", "type": "ordinal", "bandPosition": 0.7}}}
           ]},
          {"data": {"values": []}, "mark": "point", "width": 68, "height": 148},
          {"data": {"values": []}, "mark": "point", "width": 62, "height": 69},
          {"data": {"values": []}, "mark": "point", "width": 446, "height": 69},
          {"data": {"values": []}, "mark": "point", "width": 68, "height": 69}
        ], "columns": 3, "spacing": 0, "bounds": "flush", "align": "each"}
      ], "spacing": 0},
      {"data": {"values": []}, "mark": "point", "width": 3, "height": 281, "view": {"fill": "#c4c4c4", "stroke": null}},
      {"data": {"values": []}, "mark": "point", "width": 3, "height": 10},
      {"vconcat": [
        {"width": 158, "height": 137, "data": {"name": "cursor"}, "transform": [{"filter": "datum.p == '013'"}],
         "encoding": {"y": {"field": "i", "type": "ordinal", "scale": {"type": "point", "padding": 0.62}, "axis": null},
                      "x": {"datum": 0, "type": "quantitative", "scale": {"domain": [0, 1]}, "axis": null},
                      "text": {"field": "t"}},
         "layer": [
           {"transform": [{"filter": "datum.k == 'h'"}], "mark": {"type": "text", "align": "left", "baseline": "middle", "fontSize": 23, "fontWeight": "bold", "color": "#000", "clip": true}},
           {"transform": [{"filter": "datum.k != 'h'"}], "mark": {"type": "text", "align": "left", "baseline": "middle", "fontSize": 23, "clip": true},
            "encoding": {"color": {"field": "k", "type": "nominal", "scale": {"domain": ["mx", "eq", "mn"], "range": ["#c0504d", "#4f81bd", "#9bbb59"]}, "legend": null}}}
         ]},
        {"data": {"values": []}, "mark": "point", "width": 158, "height": 126},
        {"hconcat": [
          {"data": {"values": []}, "mark": "point", "width": 135, "height": 18},
          {"width": 21, "height": 18, "data": {"name": "labels"}, "transform": [{"filter": "datum.k == 'btn'"}], "mark": {"type": "text", "fontSize": 12, "baseline": "middle", "color": "#000"}, "encoding": {"text": {"field": "t"}}, "view": {"fill": "#e4e4e4", "stroke": null}},
          {"data": {"values": []}, "mark": "point", "width": 2, "height": 18}
        ], "spacing": 0}
      ], "spacing": 0},
      {"data": {"values": []}, "mark": "point", "width": 14, "height": 10}
    ], "spacing": 0},
    {"data": {"values": []}, "mark": "point", "width": 2, "height": 281, "view": {"fill": "#000", "stroke": null}},
    {"hconcat": [
      {"vconcat": [
        {"width": 474, "height": 28, "data": {"name": "labels"}, "transform": [{"filter": "datum.k == 'p018'"}], "mark": {"type": "text", "fontWeight": "bold", "fontSize": 19.4, "baseline": "middle"}, "encoding": {"text": {"field": "t"}}},
        {"concat": [
          {"data": {"values": []}, "mark": "point", "width": 72, "height": 26},
          {"data": {"values": []}, "mark": "point", "width": 372, "height": 26},
          {"data": {"values": []}, "mark": "point", "width": 55, "height": 26},
          {"data": {"values": []}, "mark": "point", "width": 72, "height": 157},
          {"width": 372, "height": 157, "data": {"name": "bars"}, "transform": [{"filter": "datum.p == '018'"}],
           "layer": [
             {"transform": [{"fold": ["mx", "eq", "mn"], "as": ["s", "v"]}],
              "mark": {"type": "bar", "stroke": "#000", "strokeWidth": 1.5},
              "encoding": {
                "x": {"field": "f", "type": "ordinal", "scale": {"domain": ["12.5","16","20","25","31.5","40","50","63","80","100","125","160","200","250","315","400","500","630","800","1k","1.25k","1.6k","2k","2.5k","3.15k","4k","5k","6.3k","8k","10k","12.5k","16k"," ","A","C"], "paddingInner": 0, "paddingOuter": 0},
                      "axis": {"values": ["31.5","125","500","2k","8k","A","C"], "labelExpr": "datum.label == 'C' ? '' : datum.label", "bandPosition": 0.8, "labelAngle": 0, "labelOverlap": false, "grid": true, "gridColor": "#c8c8c8", "gridWidth": 1.5, "domainColor": "#333", "domainWidth": 3, "tickColor": "#000", "tickWidth": 1.5, "tickSize": 9, "labelFontSize": 19, "labelPadding": 7, "title": "[Hz]", "titleFontSize": 19, "titleFontWeight": "normal", "titleBaseline": "alphabetic", "titleY": 61}},
                "y": {"field": "v", "type": "quantitative", "stack": null, "scale": {"domain": [-21.6, 88], "nice": false, "zero": false},
                      "axis": {"values": [-20, 0, 20, 40, 60, 80], "grid": true, "gridColor": "#c8c8c8", "gridWidth": 1.5, "domainColor": "#000", "domainWidth": 2, "tickColor": "#000", "tickWidth": 1.5, "tickSize": 6, "labelPadding": 2, "labelFontSize": 19.5, "title": "[dB]", "titleAngle": 0, "titleAlign": "center", "titleBaseline": "alphabetic", "titleX": -26, "titleY": -6, "titleFontSize": 19.5, "titleFontWeight": "normal"}},
                "y2": {"datum": -21.6},
                "color": {"field": "s", "type": "nominal", "scale": {"domain": ["mx", "eq", "mn"], "range": ["#c0504d", "#4f81bd", "#9bbb59"]}, "legend": null}
              }},
             {"transform": [{"filter": "datum.f == 'A'"}], "mark": {"type": "rule", "color": "#a64ca6", "strokeDash": [2, 2], "strokeWidth": 1}, "encoding": {"x": {"field": "f", "type": "ordinal", "bandPosition": 0.7}}}
           ]},
          {"data": {"values": []}, "mark": "point", "width": 55, "height": 157},
          {"data": {"values": []}, "mark": "point", "width": 72, "height": 70},
          {"data": {"values": []}, "mark": "point", "width": 372, "height": 70},
          {"data": {"values": []}, "mark": "point", "width": 55, "height": 70}
        ], "columns": 3, "spacing": 0, "bounds": "flush", "align": "each"}
      ], "spacing": 0},
      {"data": {"values": []}, "mark": "point", "width": 3, "height": 275, "view": {"fill": "#c4c4c4", "stroke": null}},
      {"data": {"values": []}, "mark": "point", "width": 3, "height": 10},
      {"vconcat": [
        {"width": 134, "height": 116, "data": {"name": "cursor"}, "transform": [{"filter": "datum.p == '018'"}],
         "encoding": {"y": {"field": "i", "type": "ordinal", "scale": {"type": "point", "padding": 0.674}, "axis": null},
                      "x": {"datum": 0, "type": "quantitative", "scale": {"domain": [0, 1]}, "axis": null},
                      "text": {"field": "t"}},
         "layer": [
           {"transform": [{"filter": "datum.k == 'h'"}], "mark": {"type": "text", "align": "left", "baseline": "middle", "fontSize": 19.4, "fontWeight": "bold", "color": "#000", "clip": true}},
           {"transform": [{"filter": "datum.k != 'h'"}], "mark": {"type": "text", "align": "left", "baseline": "middle", "fontSize": 19.4, "clip": true},
            "encoding": {"color": {"field": "k", "type": "nominal", "scale": {"domain": ["mx", "eq", "mn"], "range": ["#c0504d", "#4f81bd", "#9bbb59"]}, "legend": null}}}
         ]},
        {"data": {"values": []}, "mark": "point", "width": 134, "height": 140},
        {"hconcat": [
          {"data": {"values": []}, "mark": "point", "width": 116, "height": 18},
          {"width": 18, "height": 18, "data": {"name": "labels"}, "transform": [{"filter": "datum.k == 'btn'"}], "mark": {"type": "text", "fontSize": 11, "baseline": "middle", "color": "#000"}, "encoding": {"text": {"field": "t"}}, "view": {"fill": "#e4e4e4", "stroke": null}}
        ], "spacing": 0},
        {"data": {"values": []}, "mark": "point", "width": 134, "height": 7}
      ], "spacing": 0},
      {"data": {"values": []}, "mark": "point", "width": 19, "height": 10}
    ], "spacing": 0}
  ], "spacing": 0}
]
}
